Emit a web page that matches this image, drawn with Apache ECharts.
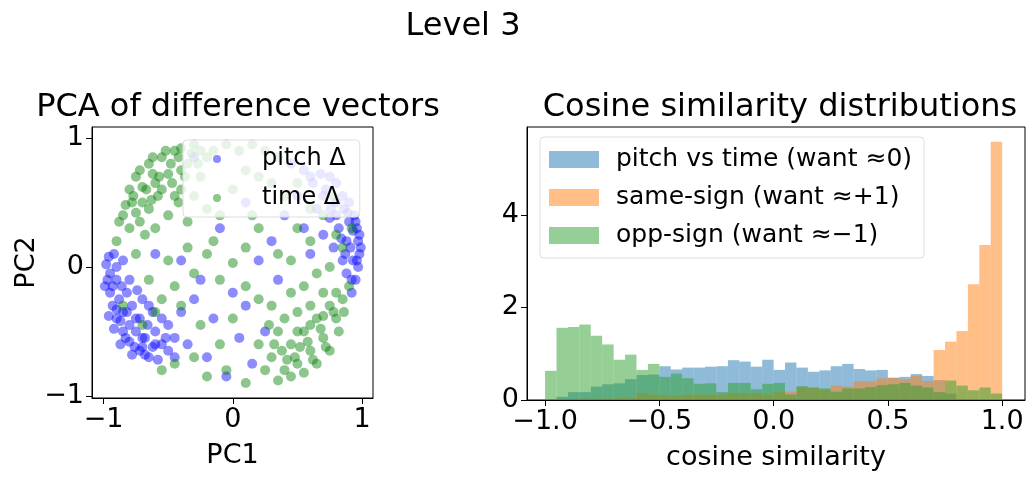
<!DOCTYPE html>
<html>
<head>
<meta charset="UTF-8">
<script src="https://cdn.jsdelivr.net/npm/echarts@6/dist/echarts.min.js"></script>
<style>html,body{margin:0;background:#fff}#c{width:1034px;height:480px}</style>
</head>
<body>
<div id="c"></div>
<script>
var pitchPts = [[-0.98,0.02],[-0.97,-0.1],[-0.95,-0.2],[-0.93,-0.3],[-0.9,-0.4],[-0.85,-0.5],[-0.8,-0.58],[-0.72,-0.65],[-0.65,-0.7],[-0.9,-0.1],[-0.88,-0.25],[-0.85,-0.35],[-0.8,-0.45],[-0.75,-0.5],[-0.7,-0.55],[-0.6,-0.6],[-0.82,-0.2],[-0.78,-0.3],[-0.72,-0.4],[-0.66,-0.45],[-0.6,-0.5],[-0.55,-0.6],[-0.5,-0.65],[-0.92,0.1],[-0.85,0.05],[-0.8,-0.1],[-0.7,-0.25],[-0.62,-0.35],[-0.5,-0.45],[-0.45,-0.55],[-0.95,-0.05],[-0.9,-0.33],[-0.83,-0.55],[-0.76,-0.62],[-0.68,-0.68],[-0.58,-0.72],[-0.4,-0.35],[-0.3,-0.25],[-0.35,-0.6],[-0.2,-0.7],[-0.15,-0.4],[-0.6,0.1],[-0.4,0.05],[-0.25,-0.1],
  [-0.99,-0.15],[-0.96,-0.38],[-0.92,-0.48],[-0.87,-0.6],[-0.78,-0.68],[-0.93,-0.15],[-0.87,-0.42],[-0.82,-0.35],[-0.75,-0.4],[-0.68,-0.55],[-0.62,-0.62],[-0.96,0.08],[-0.9,0.0],[-0.86,-0.15],[-0.74,-0.18],[-0.7,-0.62],[-0.52,-0.55],[-0.45,-0.7],[-0.55,-0.4],[-0.65,-0.3],
  [0.98,0.1],[0.97,0.2],[0.96,0.3],[0.94,0.4],[0.97,0.0],[0.95,-0.1],[0.92,-0.2],[0.9,0.35],[0.88,0.2],[0.86,0.45],[0.85,0.05],[0.82,0.3],[0.8,0.5],[0.78,0.15],[0.75,0.38],[0.7,0.55],[0.7,0.25],[0.65,0.45],[0.6,0.1],[0.55,0.3],[0.9,0.5],[0.93,0.05],[0.88,-0.05],[0.8,0.4],[0.72,0.6],[0.62,0.65],[0.8,0.65],[0.68,0.72],[0.55,0.75],[0.45,0.8],[0.5,0.55],[0.4,0.4],[0.3,0.2],[0.2,0.05],[0.35,-0.1],[0.1,-0.3],[0.05,-0.55],[0.15,-0.75],[-0.05,-0.85],[0.0,-0.2],[0.25,-0.5],[-0.1,0.3],[0.1,0.5],[-0.3,0.85],
  [0.99,0.15],[0.98,0.25],[0.96,0.05],[0.93,0.28],[0.91,0.15],[0.89,0.42],[0.95,0.35],[0.84,0.22],[0.87,0.1],[0.92,-0.1],[0.76,0.45],[0.85,0.55],[0.6,0.7],[0.75,0.7]];
var timePts = [[-0.8,0.6],[-0.75,0.7],[-0.7,0.5],[-0.65,0.8],[-0.6,0.65],[-0.55,0.85],[-0.5,0.72],[-0.45,0.9],[-0.4,0.6],[-0.35,0.8],[-0.3,0.95],[-0.25,0.7],[-0.2,0.85],[-0.85,0.4],[-0.8,0.3],[-0.72,0.35],[-0.65,0.45],[-0.58,0.55],[-0.5,0.4],[-0.42,0.5],[-0.35,0.35],[-0.7,0.62],[-0.62,0.72],[-0.55,0.6],[-0.48,0.8],[-0.4,0.75],[-0.9,0.2],[-0.88,0.35],[-0.78,0.5],[-0.68,0.25],[-0.6,0.3],[-0.3,0.55],[-0.2,0.45],[-0.15,0.9],[-0.05,0.95],[0.05,0.9],[0.15,0.95],[0.25,0.9],[0.35,0.85],[0.1,0.75],[0.2,0.7],[0.3,0.65],[0.0,0.6],
  [-0.77,0.55],[-0.72,0.75],[-0.67,0.6],[-0.62,0.85],[-0.57,0.7],[-0.52,0.9],[-0.47,0.65],[-0.42,0.85],[-0.37,0.7],[-0.32,0.88],[-0.27,0.8],[-0.83,0.48],[-0.75,0.42],[-0.63,0.52],[-0.45,0.55],[-0.4,0.92],[-0.25,0.9],
  [0.2,-0.6],[0.3,-0.7],[0.4,-0.8],[0.5,-0.75],[0.6,-0.65],[0.7,-0.55],[0.8,-0.4],[0.85,-0.25],[0.75,-0.3],[0.65,-0.4],[0.55,-0.5],[0.45,-0.6],[0.35,-0.5],[0.25,-0.8],[0.35,-0.88],[0.45,-0.85],[0.55,-0.82],[0.65,-0.75],[0.75,-0.65],[0.82,-0.5],[0.9,-0.15],[0.7,-0.2],[0.6,-0.3],[0.5,-0.35],[0.4,-0.4],[0.3,-0.3],[0.45,-0.2],[0.55,-0.15],[0.65,-0.05],[0.75,0.0],[0.85,0.15],[0.92,0.3],[0.8,0.25],[0.6,0.2],
  [0.38,-0.65],[0.48,-0.7],[0.58,-0.58],[0.68,-0.48],[0.78,-0.35],[0.72,-0.62],[0.62,-0.72],[0.52,-0.62],[0.42,-0.72],[0.32,-0.6],[0.6,-0.45],[0.7,-0.38],[0.8,-0.2],[0.5,-0.5],[0.28,-0.45],[0.86,-0.35],
  [0.0,0.03],[-0.1,-0.1],[-0.2,0.1],[-0.3,-0.05],[-0.45,-0.15],[-0.55,-0.25],[-0.65,-0.1],[-0.75,0.1],[-0.4,-0.3],[-0.25,-0.45],[-0.1,-0.6],[-0.05,-0.8],[0.1,-0.9],[-0.2,-0.85],[-0.3,-0.7],[-0.45,-0.75],[-0.55,-0.8],[-0.6,-0.35],[-0.7,-0.45],[-0.15,0.2],[0.1,0.15],[0.2,0.3],[0.1,-0.15],[0.2,-0.25],[0.0,-0.4],[-0.1,0.4],[0.15,0.4],[0.35,0.1],[0.45,0.05],[0.5,0.3],[0.6,0.45],[0.7,0.4],[0.78,0.55],[0.4,0.55],[0.5,0.65],[-0.85,-0.3],[-0.35,0.15],[-0.5,0.05]];

// histogram: 40 bins of width 0.05 from -1 to 1
var binStart = -1, binWidth = 0.05;
var pitchVsTime = [0,0.07,0.17,0.17,0.29,0.34,0.36,0.45,0.54,0.55,0.73,0.66,0.70,0.70,0.72,0.73,0.86,0.83,0.72,0.87,0.65,0.81,0.70,0.61,0.64,0.73,0.78,0.67,0.64,0.65,0.48,0.50,0.56,0.52,0.43,0.14,0,0,0,0];
var sameSign = [0.02,0.02,0.02,0.03,0.03,0.03,0.04,0.05,0.15,0.12,0.10,0.10,0.12,0.12,0.12,0.12,0.15,0.15,0.15,0.12,0.18,0.18,0.27,0.27,0.22,0.31,0.29,0.40,0.40,0.47,0.48,0.45,0.52,0.41,1.08,1.26,1.49,2.50,3.35,5.58];
var oppSign = [0.63,1.56,1.58,1.63,1.39,1.20,0.87,0.98,0.65,0.78,0.50,0.57,0.47,0.35,0.36,0.17,0.37,0.37,0.23,0.35,0.37,0.12,0.30,0.27,0.25,0.18,0.25,0.25,0.28,0.32,0.34,0.37,0.31,0.27,0.17,0.42,0.31,0.21,0.27,0.14];

function bins(h) {
    return h.map(function (v, i) {
        var s = binStart + i * binWidth;
        return [s, s + binWidth, v];
    });
}
function renderBin(params, api) {
    var p0 = api.coord([api.value(0), api.value(2)]);
    var p1 = api.coord([api.value(1), 0]);
    return {type: 'rect', shape: {x: p0[0], y: p0[1], width: p1[0] - p0[0], height: p1[1] - p0[1]},
        style: {fill: api.visual('color'), opacity: 0.5}};
}
function fmt1(v) { return (v < 0 ? '\u2212' : '') + Math.abs(v).toFixed(1); }
function fmt0(v) { return (v < 0 ? '\u2212' : '') + Math.abs(v); }

var F = 'DejaVu Sans';
var TICK = 27, NAME = 27, TITLE = 32;
function ax(o, ticks, f) {
    o.type = 'value';
    o.axisLine = {onZero: false, lineStyle: {color: '#000'}};
    o.axisTick = {customValues: ticks, length: 6, lineStyle: {color: '#000'}};
    o.splitLine = {show: false};
    o.axisLabel = {customValues: ticks, formatter: f, color: '#000', fontSize: TICK, fontFamily: F, margin: 8};
    o.nameLocation = 'middle';
    o.nameTextStyle = {color: '#000', fontSize: NAME, fontFamily: F};
    return o;
}
var titleStyle = {fontSize: TITLE, fontWeight: 'normal', color: '#000', fontFamily: F};

var chart = echarts.init(document.getElementById('c'));
chart.setOption({
    animation: false,
    textStyle: {fontFamily: F},
    title: [
        {text: 'Level 3', left: 458, top: 6, textAlign: 'center', textStyle: titleStyle},
        {text: 'PCA of difference vectors', left: 233, top: 87, textAlign: 'center', textStyle: titleStyle},
        {text: 'Cosine similarity distributions', left: 775, top: 87, textAlign: 'center', textStyle: titleStyle}
    ],
    legend: [
        {data: ['pitch Δ', 'time Δ'], orient: 'vertical', left: 183, top: 140, width: 177,
            backgroundColor: 'rgba(255,255,255,0.8)', borderColor: '#ddd', borderWidth: 1, borderRadius: 4,
            padding: [7, 14, 7, 30], itemGap: 15, itemWidth: 8, itemHeight: 8, icon: 'circle',
            textStyle: {fontSize: 24, color: '#000', fontFamily: F, padding: [0, 0, 0, 36]}},
        {data: ['pitch vs time (want ≈0)', 'same-sign (want ≈+1)', 'opp-sign (want ≈−1)'], orient: 'vertical', left: 540, top: 137,
            backgroundColor: 'rgba(255,255,255,0.8)', borderColor: '#ddd', borderWidth: 1, borderRadius: 4,
            padding: [10, 12, 10, 9], itemGap: 13, itemWidth: 50, itemHeight: 17, icon: 'rect',
            textStyle: {fontSize: 25, color: '#000', fontFamily: F, padding: [0, 0, 0, 12]}}
    ],
    grid: [
        {left: 92, right: 661, top: 127, bottom: 82, show: true, borderColor: '#000', borderWidth: 1},
        {left: 527, right: 9, top: 127, bottom: 80, show: true, borderColor: '#000', borderWidth: 1}
    ],
    xAxis: [
        ax({gridIndex: 0, min: -1.09, max: 1.085, name: 'PC1', nameGap: 44}, [-1, 0, 1], fmt0),
        ax({gridIndex: 1, min: -1.079, max: 1.10, name: 'cosine similarity', nameGap: 44}, [-1, -0.5, 0, 0.5, 1], fmt1)
    ],
    yAxis: [
        ax({gridIndex: 0, min: -1.016, max: 1.085, name: 'PC2', nameGap: 50}, [-1, 0, 1], fmt0),
        ax({gridIndex: 1, min: 0, max: 5.9}, [0, 2, 4], fmt0)
    ],
    series: [
        {name: 'pitch Δ', type: 'scatter', xAxisIndex: 0, yAxisIndex: 0, data: pitchPts, symbolSize: 10,
            itemStyle: {color: 'blue', opacity: 0.45}},
        {name: 'time Δ', type: 'scatter', xAxisIndex: 0, yAxisIndex: 0, data: timePts, symbolSize: 10,
            itemStyle: {color: 'green', opacity: 0.45}},
        {name: 'pitch vs time (want ≈0)', type: 'custom', xAxisIndex: 1, yAxisIndex: 1, data: bins(pitchVsTime),
            renderItem: renderBin, itemStyle: {color: '#1f77b4', opacity: 0.5}},
        {name: 'same-sign (want ≈+1)', type: 'custom', xAxisIndex: 1, yAxisIndex: 1, data: bins(sameSign),
            renderItem: renderBin, itemStyle: {color: '#ff7f0e', opacity: 0.5}},
        {name: 'opp-sign (want ≈−1)', type: 'custom', xAxisIndex: 1, yAxisIndex: 1, data: bins(oppSign),
            renderItem: renderBin, itemStyle: {color: '#2ca02c', opacity: 0.5}}
    ]
});
</script>
</body>
</html>
